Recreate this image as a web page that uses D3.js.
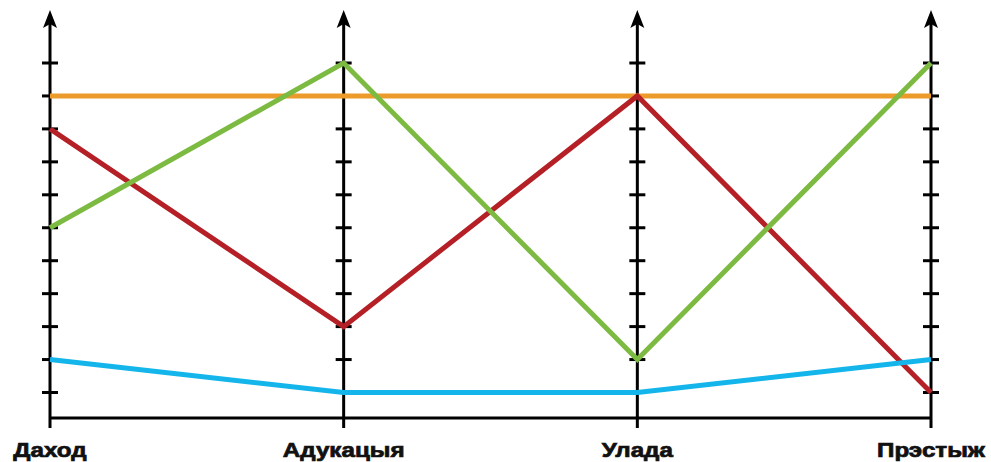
<!DOCTYPE html>
<html><head><meta charset="utf-8">
<script src="https://cdn.jsdelivr.net/npm/d3@7"></script>
<style>html,body{margin:0;padding:0;background:#fff;}</style>
</head><body>
<svg id="chart" width="991" height="462"></svg>
<script>
const categories = ["Даход", "Адукацыя", "Улада", "Прэстыж"];
const tickValues = [1,2,3,4,5,6,7,8,9,10,11];
const seriesOrange = [10, 10, 10, 10];
const seriesRed = [9, 3, 10, 1];
const seriesGreen = [6, 11, 2, 11];
const seriesBlue = [2, 1, 1, 2];

const series = [
  {values: seriesOrange, color: "#EC9A29"},
  {values: seriesRed, color: "#B51F26"},
  {values: seriesGreen, color: "#7CBA42"},
  {values: seriesBlue, color: "#14B5EA"}
];

const svg = d3.select("#chart");
const x = d3.scalePoint().domain(categories).range([50, 931]);
const y = d3.scaleLinear().domain([1, 11]).range([392.5, 63]);
const baseY = 418;

svg.append("line").attr("x1", x(categories[0])).attr("x2", x(categories[categories.length-1]))
  .attr("y1", baseY).attr("y2", baseY).attr("stroke", "#000").attr("stroke-width", 3);

categories.forEach(c => {
  const g = svg.append("g").attr("transform", `translate(${x(c)},0)`);
  g.append("line").attr("x1", 0).attr("x2", 0).attr("y1", 24).attr("y2", 428)
    .attr("stroke", "#000").attr("stroke-width", 3);
  g.selectAll("line.tick").data(tickValues).enter().append("line").attr("class", "tick")
    .attr("x1", -8).attr("x2", 8).attr("y1", d => y(d)).attr("y2", d => y(d))
    .attr("stroke", "#000").attr("stroke-width", 3);
  g.append("path").attr("d", "M0,10 L7,28 L0,24 L-7,28 Z").attr("fill", "#000");
  g.append("text").attr("x", 0).attr("y", 457).attr("text-anchor", "middle")
    .attr("transform", "scale(1.24,1)")
    .attr("font-family", "Liberation Sans, Arial, sans-serif").attr("font-weight", "bold")
    .attr("font-size", 19.5).attr("fill", "#111")
    .attr("stroke", "#111").attr("stroke-width", 0.7).text(c);
});

const line = d3.line().x((d,i) => x(categories[i])).y(d => y(d));
series.forEach(s => {
  svg.append("path").datum(s.values).attr("d", line).attr("fill", "none")
    .attr("stroke", s.color).attr("stroke-width", 5).attr("stroke-linejoin", "miter");
});
</script>
</body></html>
